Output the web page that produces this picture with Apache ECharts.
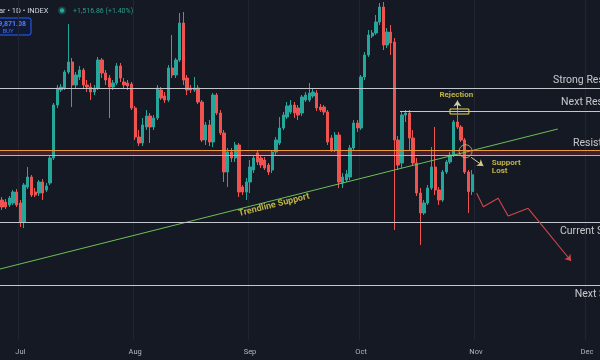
<!DOCTYPE html>
<html><head><meta charset="utf-8">
<script src="https://cdn.jsdelivr.net/npm/echarts@6/dist/echarts.min.js"></script>
<style>html,body{margin:0;padding:0;background:#151924;}#c{width:600px;height:360px;}</style>
</head><body><div id="c"></div>
<script>
// ---- data ----
const startDate = '2025-06-26';
const dayCount = 162;
const monthTicks = ['Jul','Aug','Sep','Oct','Nov','Dec'];

const opens = [
107600,107420,107150,107330,108320,107330,105620,108770,109670,108320,
108230,109220,108500,109130,111380,116150,117500,117680,119120,120020,
117950,118670,119300,117950,117770,117320,117680,120200,119030,118580,
117770,118130,119660,118220,118130,118040,115880,113270,112730,114170,
115160,114170,114980,117500,116960,116600,119480,118850,120200,123530,
118580,117680,117500,117680,116420,113000,114350,112820,117050,115430,
113630,110120,111920,111380,112550,108770,108320,109220,110300,111830,
111380,111200,110750,110300,111920,112730,114080,115070,115520,116150,
115880,115430,116600,116600,116960,117230,115970,115970,115520,113180,
112100,113450,109130,109400,109670,112280,114530,114080,118670,120650,
122360,122630,123620,124970,121550,122720,121820,113000,110930,115250,
115430,113180,110930,108230,106430,107330,108680,110570,108500,107600,
110120,111020,111650,114620,114170,113000,110120,108354.22];
const closes = [
106970,106970,107780,108320,107150,105620,108950,109670,108050,108050,
109220,108230,108860,111380,116150,117680,117770,119120,120020,117950,
118850,119300,117950,117770,117320,117680,120200,119030,118400,117770,
118130,119660,118580,117950,117860,115880,113270,112730,114350,115160,
114170,114980,117680,116780,116600,119480,118850,120200,123530,118400,
117500,117500,117680,116420,113000,114350,112820,117050,115430,113630,
110120,111920,111380,112550,108320,108320,109220,110570,111380,111020,
110750,110480,110120,111920,113000,114080,115250,116060,116150,115430,
115250,116870,117050,117230,117320,115880,115700,115520,112820,112100,
113450,109220,109670,109940,112280,114530,114080,118670,120650,122450,
122630,123620,124970,121550,122720,121730,113000,110750,115250,115430,
113180,110930,108230,106430,107330,108680,110570,108500,107600,110120,
111020,111650,114620,114170,113000,110120,108354.22,109871.08];
const lows = [
106700,106790,106970,107150,106970,105170,105080,108590,107870,107870,
107960,107600,108320,108950,111200,115880,117320,117500,118940,115970,
117680,118400,117680,117320,116600,117050,117500,118580,117950,114980,
117500,117950,118220,117680,117500,115700,113000,112460,112460,113900,
112730,113900,114800,116600,116330,116420,118580,118580,120020,117950,
117050,117230,117320,116240,112820,112550,112460,112370,115250,113450,
109220,108770,111020,111020,107870,108050,107600,108230,110030,110750,
110480,110300,109850,110030,111650,112550,113900,114890,115340,114980,
114800,115160,116420,116420,116780,115610,115520,115250,112550,111920,
111920,108680,108680,109220,109400,112100,113720,113900,118400,120470,
122180,122450,123350,121100,121280,120650,104900,110300,110480,114620,
112100,110660,107960,103550,106250,107150,108500,108050,107150,107420,
109940,110840,111470,113990,112820,109940,106430,108050];
const highs = [
107870,107690,107960,108500,108590,107600,109130,110570,109850,108680,
109400,109490,109130,111560,116330,117950,118040,119300,123440,120380,
119120,119660,119480,118400,118130,117950,120470,120380,119300,118850,
118400,119930,119930,118580,118400,118220,116060,113900,114980,115700,
115430,115250,117950,117770,117320,119750,122450,120380,124430,124520,
118850,117950,118670,117950,116600,114620,114800,117230,117230,115700,
113900,112280,112280,112820,112730,108950,109580,111200,111650,112100,
111650,111470,110930,112100,113270,115070,115520,116420,116600,116420,
116150,117050,117320,118130,117680,117500,116240,116150,115700,113450,
113720,113720,110030,110300,112550,114800,114800,118850,120920,122900,
122900,124250,125330,125420,123080,123350,122180,113360,115520,115700,
115700,113900,111380,108680,107600,108950,112370,114170,108770,110300,
111200,111920,114800,116330,114350,113180,110300,110300];

const levelNames = ['Strong Resistance','Next Resistance','Resistance','Current Support','Next Support'];
const levelPrices = [117650, 115610, 112100, 105590, 99950];
const bandLower = 111590;
const trendlinePoints = [[-0.5, 101390], [150.1, 113990]];
const projectionPoints = [[128.2,108200],[130.0,107000],[134.0,107750],[136.7,106160],[142.1,106850]];
const projectionTip = [153.7, 102110];

// ---- build ----
const categories = [];
const d0 = new Date(startDate + 'T00:00:00Z');
for (let i = 0; i < dayCount; i++) {
  categories.push(new Date(d0.getTime() + i * 86400000).toISOString().slice(0, 10));
}
const isMonthStart = (i, v) => v.slice(8) === '01';
const candleData = opens.map((o, i) => [o, closes[i], lows[i], highs[i]]);

const YEL = '#e9d84c';
const FONT = 'Roboto, "Noto Sans", sans-serif';
const levelLabelAnchors = [[148.8,118400],[151.0,116420],[154.2,112730],[150.7,104810],[154.7,99140]];

const gray = {color:'#c3c6cd', width:1, type:'solid'};
const levelLines = [
  {yAxis: levelPrices[0], lineStyle: gray},
  [{coord:[107.5, levelPrices[1]], lineStyle: gray},{coord:[161.5, levelPrices[1]]}],
  {yAxis: levelPrices[2], lineStyle: {color:'#e99a3a', width:1.2, type:'solid'}},
  {yAxis: bandLower, lineStyle: {color:'#d9a3a0', width:1, type:'solid'}},
  {yAxis: levelPrices[3], lineStyle: gray},
  {yAxis: levelPrices[4], lineStyle: gray}
];

const labelItems = levelNames.map((n, i) => ({
  value: levelLabelAnchors[i], symbolSize: 0,
  label: {show:true, formatter: n, position:'inside', align:'left', verticalAlign:'middle',
          color:'#f0f0f0', fontSize:10.5, fontFamily: FONT}
}));
labelItems.push({value:[73.5,107150], symbolSize:0,
  label:{show:true, formatter:'Trendline Support', position:'inside', align:'center', verticalAlign:'middle',
         rotate:14, color:YEL, fontSize:9, fontWeight:'bold', fontFamily:FONT}});
labelItems.push({value:[122.7,117050], symbolSize:0,
  label:{show:true, formatter:'Rejection', position:'inside', align:'center', verticalAlign:'middle',
         color:YEL, fontSize:8, fontWeight:'bold', fontFamily:FONT}});
labelItems.push({value:[132.3,110615], symbolSize:0,
  label:{show:true, formatter:'Support\nLost', position:'inside', align:'left', verticalAlign:'middle',
         lineHeight:8, color:YEL, fontSize:8, fontWeight:'bold', fontFamily:FONT}});
labelItems.push({value:[125.2,111990], symbol:'circle', symbolSize:13,
  itemStyle:{color:'rgba(0,0,0,0)', borderColor:'#e3b24a', borderWidth:1}});

const chart = echarts.init(document.getElementById('c'), null, {renderer:'canvas'});
chart.setOption({
  animation: false,
  backgroundColor: '#151924',
  grid: {left:0, right:0, top:0, bottom:20},
  xAxis: [
    {type:'category', data:categories, boundaryGap:true,
     axisLine:{show:false}, axisTick:{show:false},
     axisLabel:{interval:isMonthStart, margin:8, color:'#b2b5be', fontSize:7.5, fontFamily:FONT,
                formatter:(v)=>monthTicks[parseInt(v.slice(5,7),10)-7]},
     splitLine:{show:true, interval:isMonthStart, lineStyle:{color:'#212533', width:1}}},
    {type:'value', min:-0.5, max:dayCount-0.5, show:false, splitLine:{show:false}}
  ],
  yAxis: {type:'value', min:95000, max:125600, show:false, splitLine:{show:false}},
  series: [
    {type:'candlestick', xAxisIndex:0, data:candleData, barWidth:2.8, z:2,
     itemStyle:{color:'#26a69a', color0:'#ef5350', borderColor:'#26a69a', borderColor0:'#ef5350', borderWidth:1}},
    {type:'line', xAxisIndex:1, data:[], silent:true,
     markArea:{silent:true, itemStyle:{color:'rgba(125,38,55,0.45)'},
       data:[[{yAxis:levelPrices[2]},{yAxis:bandLower}],
             [{coord:[121.0,115790], itemStyle:{color:'rgba(0,0,0,0)', borderColor:YEL, borderWidth:1}},{coord:[126.1,115340]}]]},
     markLine:{silent:true, symbol:['none','none'], label:{show:false}, data:levelLines}},
    {type:'line', xAxisIndex:1, data:trendlinePoints, symbol:'none', silent:true, z:4,
     lineStyle:{color:'#6cbf5a', width:1}},
    {type:'line', xAxisIndex:1, data:projectionPoints, symbol:'none', silent:true, z:4,
     lineStyle:{color:'#d2474a', width:1.1},
     markLine:{silent:true, label:{show:false}, symbol:['none','arrow'], symbolSize:6,
       data:[
         [{coord:projectionPoints[projectionPoints.length-1], lineStyle:{color:'#d2474a', width:1.1, type:'solid'}},{coord:projectionTip}],
         [{coord:[123.0,115790], lineStyle:{color:'#cfcdb0', width:1, type:'solid'}},{coord:[123.0,116560]}],
         [{coord:[126.7,111443], lineStyle:{color:'#d8c98e', width:1, type:'solid'}},{coord:[130.0,110660]}]
       ]}},
    {type:'scatter', xAxisIndex:1, data:labelItems, silent:true, z:6}
  ],
  graphic: [
    {type:'text', x:-1, y:11, style:{text:'ar \u2022 1D \u2022 INDEX', fill:'#d1d4dc', font:'7.5px '+FONT, verticalAlign:'middle', align:'left'}},
    {type:'circle', shape:{cx:62, cy:10.5, r:4}, style:{fill:'rgba(38,166,154,0.28)'}},
    {type:'circle', shape:{cx:62, cy:10.5, r:2.2}, style:{fill:'#26a69a'}},
    {type:'text', x:73, y:11, style:{text:'+1,516.86 (+1.40%)', fill:'#2a9d8f', font:'7px '+FONT, verticalAlign:'middle', align:'left'}},
    {type:'rect', shape:{x:-6, y:18, width:37, height:17, r:2}, style:{fill:'#101a36', stroke:'#2962ff', lineWidth:1}},
    {type:'text', x:26, y:24, style:{text:'109,871.08', fill:'#4d7cff', font:'bold 7px '+FONT, verticalAlign:'middle', align:'right'}},
    {type:'text', x:8, y:31, style:{text:'BUY', fill:'#3f6df5', font:'6px '+FONT, verticalAlign:'middle', align:'center'}}
  ]
});
</script></body></html>
